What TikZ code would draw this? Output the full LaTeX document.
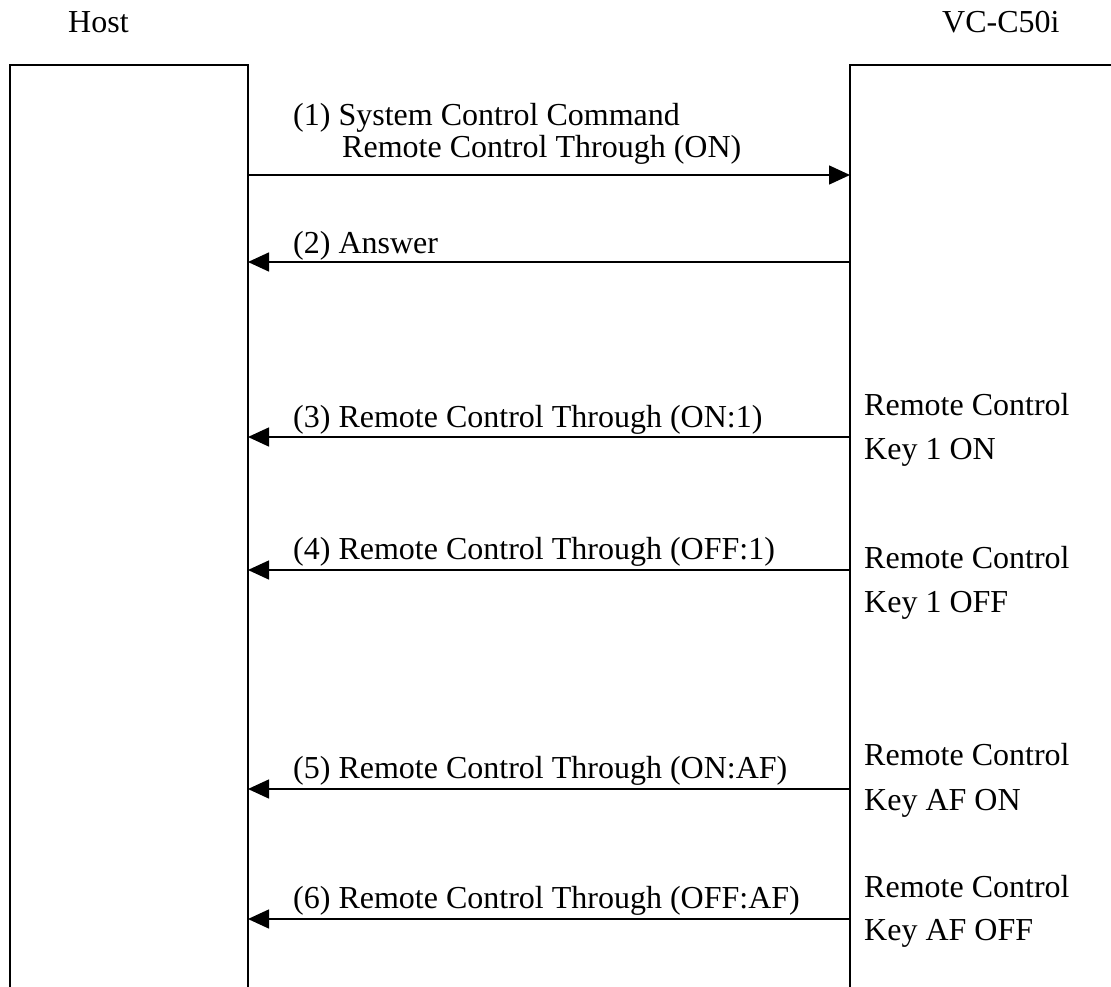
\documentclass[tikz,border=0pt]{standalone}
\usepackage{fontspec}
\setmainfont{Liberation Serif}
\usetikzlibrary{arrows.meta}

\begin{document}
\begin{tikzpicture}[x=1pt,y=-1pt,
    txt/.style={anchor=base west,inner sep=0pt,font=\fontsize{32}{38}\selectfont},
    msg/.style={line width=1.5pt,-{Triangle[length=21pt,width=19pt]}},
    box/.style={line width=2pt}]
            \useasboundingbox (0,0) rectangle (1111,987);
            % Các khung
            \coordinate (HB) at (10,987);
            \coordinate (HL) at (10,65);
            \coordinate (HR) at (248,65);
            \coordinate (HE) at (248,987);
            \coordinate (CB) at (850,987);
            \coordinate (CL) at (850,65);
            \coordinate (CR) at (1112,65);
            \draw[box] (HB) -- (HL) -- (HR) -- (HE);
            \draw[box] (CB) -- (CL) -- (CR);
            % Tiêu đề
            \node[txt] (host) at (68,33) {Host};
            \node[txt] (cam) at (942,33) {VC-C50i};
            % Các điểm đầu mũi tên
            \coordinate (H1) at (248,175);
            \coordinate (C1) at (850,175);
            \coordinate (H2) at (248,262);
            \coordinate (C2) at (850,262);
            \coordinate (H3) at (248,437);
            \coordinate (C3) at (850,437);
            \coordinate (H4) at (248,570);
            \coordinate (C4) at (850,570);
            \coordinate (H5) at (248,789);
            \coordinate (C5) at (850,789);
            \coordinate (H6) at (248,919);
            \coordinate (C6) at (850,919);
            % Mũi tên
            \draw[msg] (H1) -- (C1);
            \draw[msg] (C2) -- (H2);
            \draw[msg] (C3) -- (H3);
            \draw[msg] (C4) -- (H4);
            \draw[msg] (C5) -- (H5);
            \draw[msg] (C6) -- (H6);
            % Nhãn
            \node[txt] (m1) at (293,126) {(1) System Control Command};
            \node[txt] (m1b) at (342,158) {Remote Control Through (ON)};
            \node[txt] (m2) at (293,253) {(2) Answer};
            \node[txt] (m3) at (293,427) {(3) Remote Control Through (ON:1)};
            \node[txt] (m4) at (293,559) {(4) Remote Control Through (OFF:1)};
            \node[txt] (m5) at (293,778) {(5) Remote Control Through (ON:AF)};
            \node[txt] (m6) at (293,908) {(6) Remote Control Through (OFF:AF)};
            % Nhãn phím
            \node[txt] (k3) at (864,415) {Remote Control};
            \node[txt] (k3b) at (864,459) {Key 1 ON};
            \node[txt] (k4) at (864,568) {Remote Control};
            \node[txt] (k4b) at (864,612) {Key 1 OFF};
            \node[txt] (k5) at (864,765) {Remote Control};
            \node[txt] (k5b) at (864,810) {Key AF ON};
            \node[txt] (k6) at (864,897) {Remote Control};
            \node[txt] (k6b) at (864,940) {Key AF OFF};
        \end{tikzpicture}
\end{document}
